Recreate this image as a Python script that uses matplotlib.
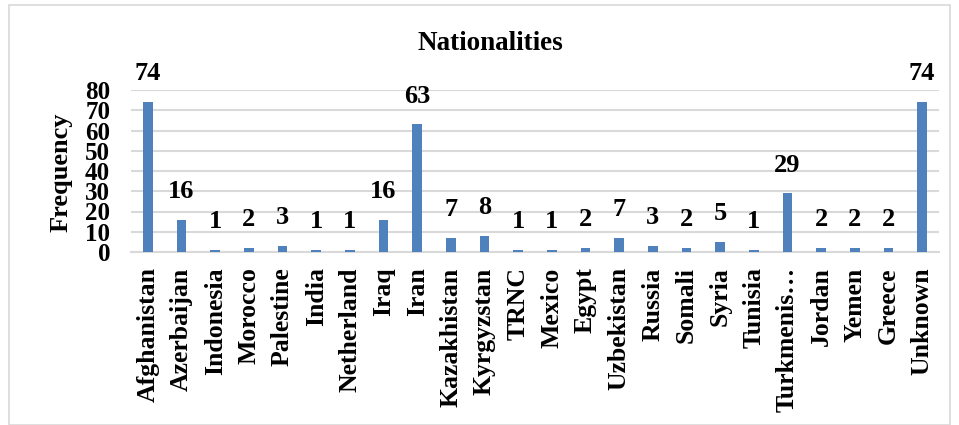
import matplotlib
matplotlib.use('Agg')
import matplotlib.pyplot as plt
from matplotlib.patches import Rectangle
import numpy as np

countries = ['Afghanistan', 'Azerbaijan', 'Indonesia', 'Morocco', 'Palestine', 'India',
             'Netherland', 'Iraq', 'Iran', 'Kazakhistan', 'Kyrgyzstan', 'TRNC', 'Mexico',
             'Egypt', 'Uzbekistan', 'Russia', 'Somali', 'Syria', 'Tunisia', 'Turkmenis…',
             'Jordan', 'Yemen', 'Greece', 'Unknown']
freq = [74, 16, 1, 2, 3, 1, 1, 16, 63, 7, 8, 1, 1, 2, 7, 3, 2, 5, 1, 29, 2, 2, 2, 74]
yticks = [0, 10, 20, 30, 40, 50, 60, 70, 80]

serif = 'Liberation Serif'
bar_color = '#4f81bd'
grid_color = '#d9d9d9'

fig = plt.figure(figsize=(9.59, 4.25), dpi=100)
W, H = 959, 425

# outer chart frame
fig.patches.append(Rectangle((9 / W, 0), (950 - 9) / W, (H - 5) / H, transform=fig.transFigure,
                             fill=False, edgecolor='#d9d9d9', linewidth=1.2))

left, right = 131 / W, 939 / W
bottom, top = (H - 252) / H, (H - 90) / H
ax = fig.add_axes([left, bottom, right - left, top - bottom])

x = np.arange(len(countries))
ax.bar(x, freq, width=0.29, color=bar_color, zorder=3)

for xi, v in zip(x, freq):
    ax.annotate(str(v), (xi, v), xytext=(0, 12), textcoords='offset points',
                ha='center', va='bottom', fontsize=19, fontweight='bold', family=serif)

ax.set_ylim(0, 80)
ax.set_xlim(-0.5, len(countries) - 0.5)
ax.set_yticks(yticks)
ax.set_yticklabels([str(t) for t in yticks], fontsize=18, fontweight='bold', family=serif)
ax.set_xticks(x)
ax.set_xticklabels(countries, rotation=90, fontsize=18.5, fontweight='bold', family=serif)
ax.tick_params(axis='y', length=0, pad=15)
ax.tick_params(axis='x', length=0, pad=11)
ax.yaxis.grid(True, color=grid_color, linewidth=1.5, zorder=0)
for s in ['left', 'right', 'top']:
    ax.spines[s].set_visible(False)
ax.spines['bottom'].set_color(grid_color)
ax.spines['bottom'].set_linewidth(1.5)

fig.text(61 / W, 1 - 172 / H, 'Frequency', rotation=90, ha='center', va='center',
         fontsize=19, fontweight='bold', family=serif)
fig.text(490 / W, 1 - 43 / H, 'Nationalities', ha='center', va='center',
         fontsize=19.5, fontweight='bold', family=serif)

fig.savefig('out.png', dpi=100)
